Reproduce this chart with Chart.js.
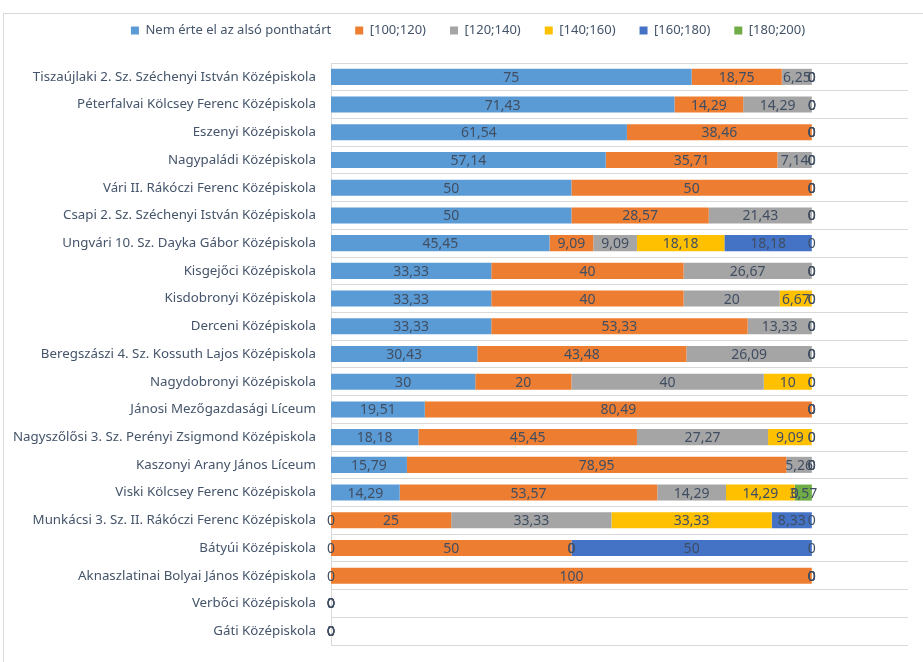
<!DOCTYPE html>
<html>
<head>
<meta charset="utf-8">
<script src="https://cdn.jsdelivr.net/npm/chart.js@4.4.1/dist/chart.umd.min.js"></script>
<style>
  html, body { margin: 0; padding: 0; background: #fff; }
  #wrap { position: relative; width: 923px; height: 662px; overflow: hidden; }
  #frame { position: absolute; left: 3px; top: 13px; width: 960px; height: 700px; border: 1px solid #D9D9D9; pointer-events: none; }
  canvas { position: absolute; left: 0; top: 0; }
</style>
</head>
<body>
<div id="wrap">
  <div id="frame"></div>
  <canvas id="chart" width="923" height="662"></canvas>
</div>
<script>
// Schools, top to bottom
const schools = [
    'Tiszaújlaki 2. Sz. Széchenyi István Középiskola',
    'Péterfalvai Kölcsey Ferenc Középiskola',
    'Eszenyi Középiskola',
    'Nagypaládi Középiskola',
    'Vári II. Rákóczi Ferenc Középiskola',
    'Csapi 2. Sz. Széchenyi István Középiskola',
    'Ungvári 10. Sz. Dayka Gábor Középiskola',
    'Kisgejőci Középiskola',
    'Kisdobronyi Középiskola',
    'Derceni Középiskola',
    'Beregszászi 4. Sz. Kossuth Lajos Középiskola',
    'Nagydobronyi Középiskola',
    'Jánosi Mezőgazdasági Líceum',
    'Nagyszőlősi 3. Sz. Perényi Zsigmond Középiskola',
    'Kaszonyi Arany János Líceum',
    'Viski Kölcsey Ferenc Középiskola',
    'Munkácsi 3. Sz. II. Rákóczi Ferenc Középiskola',
    'Bátyúi Középiskola',
    'Aknaszlatinai Bolyai János Középiskola',
    'Verbőci Középiskola',
    'Gáti Középiskola'
];

const seriesNames = ['Nem érte el az alsó ponthatárt', '[100;120)', '[120;140)', '[140;160)', '[160;180)', '[180;200)'];

const belowLimit = [75, 71.43, 61.54, 57.14, 50, 50, 45.45, 33.33, 33.33, 33.33, 30.43, 30, 19.51, 18.18, 15.79, 14.29, 0, 0, 0, 0, 0];
const range100 = [18.75, 14.29, 38.46, 35.71, 50, 28.57, 9.09, 40, 40, 53.33, 43.48, 20, 80.49, 45.45, 78.95, 53.57, 25, 50, 100, 0, 0];
const range120 = [6.25, 14.29, 0, 7.14, 0, 21.43, 9.09, 26.67, 20, 13.33, 26.09, 40, 0, 27.27, 5.26, 14.29, 33.33, 0, 0, 0, 0];
const range140 = [0, 0, 0, 0, 0, 0, 18.18, 0, 6.67, 0, 0, 10, 0, 9.09, 0, 14.29, 33.33, 0, 0, 0, 0];
const range160 = [0, 0, 0, 0, 0, 0, 18.18, 0, 0, 0, 0, 0, 0, 0, 0, 0, 8.33, 50, 0, 0, 0];
const range180 = [0, 0, 0, 0, 0, 0, 0, 0, 0, 0, 0, 0, 0, 0, 0, 3.57, 0, 0, 0, 0, 0];

const colors = ['#5B9BD5', '#ED7D31', '#A5A5A5', '#FFC000', '#4472C4', '#70AD47'];
const allSeries = [belowLimit, range100, range120, range140, range160, range180];

const FONT = "'Noto Sans', sans-serif";
const TEXT = '#44546A';

// centred value labels on every segment, zeros too
const valueLabels = {
    id: 'valueLabels',
    afterDatasetsDraw(chart) {
        const ctx = chart.ctx;
        ctx.save();
        ctx.font = `14px ${FONT}`;
        ctx.fillStyle = '#404E62';
        ctx.textAlign = 'center';
        ctx.textBaseline = 'middle';
        chart.data.datasets.forEach((ds, i) => {
            const meta = chart.getDatasetMeta(i);
            meta.data.forEach((bar, j) => {
                const v = ds.data[j];
                const txt = String(v).replace('.', ',');
                ctx.fillText(txt, (bar.x + bar.base) / 2, bar.y + 1);
            });
        });
        ctx.restore();
    }
};

// extra room under the legend, and nudge it right a bit
const legendGap = {
    id: 'legendGap',
    beforeInit(chart) {
        const fit = chart.legend.fit;
        chart.legend.fit = function () {
            fit.call(this);
            this.height += 16;
        };
    },
    afterLayout(chart) {
        chart.legend.left += 14;
        chart.legend.right += 14;
    }
};

new Chart(document.getElementById('chart'), {
    type: 'bar',
    data: {
        labels: schools,
        datasets: allSeries.map((d, i) => ({
            label: seriesNames[i],
            data: d,
            backgroundColor: colors[i],
            borderWidth: 0,
            categoryPercentage: 1,
            barPercentage: 0.58
        }))
    },
    options: {
        indexAxis: 'y',
        responsive: false,
        animation: false,
        layout: { padding: { left: 0, right: 15, top: 0, bottom: 17 } },
        plugins: {
            legend: {
                position: 'top',
                labels: {
                    boxWidth: 8,
                    boxHeight: 8,
                    padding: 24,
                    color: TEXT,
                    font: { family: FONT, size: 13 }
                }
            },
            tooltip: { enabled: false }
        },
        scales: {
            x: {
                stacked: true,
                min: 0,
                max: 120,
                display: false
            },
            y: {
                stacked: true,
                grid: { color: '#D9D9D9', drawTicks: false, offset: true },
                border: { color: '#D9D9D9' },
                ticks: { color: TEXT, padding: 15, font: { family: FONT, size: 13.3 } },
                afterFit(scale) {
                    scale.width = 331;
                    scale.paddingTop = 0;
                    scale.paddingBottom = 0;
                }
            }
        }
    },
    plugins: [legendGap, valueLabels]
});
</script>
</body>
</html>
